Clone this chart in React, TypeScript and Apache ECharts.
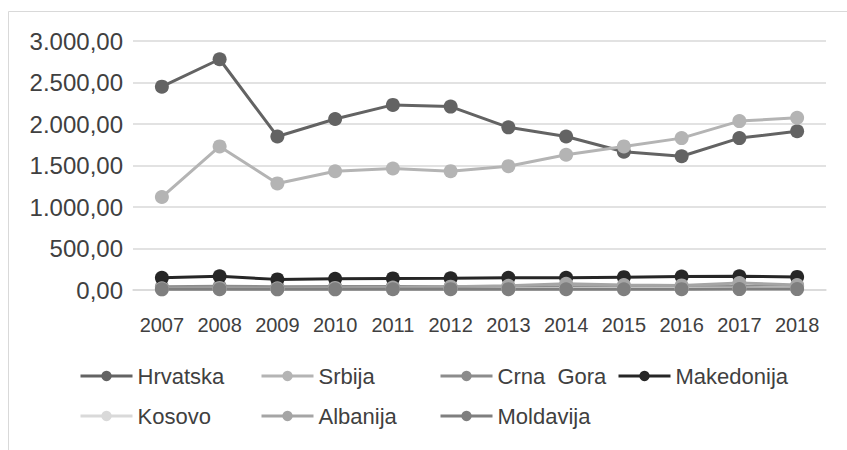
import React, { useEffect, useRef } from "react";
import * as echarts from "echarts";

const years = ["2007", "2008", "2009", "2010", "2011", "2012", "2013", "2014", "2015", "2016", "2017", "2018"];
const hrvatska = [2450, 2780, 1850, 2060, 2230, 2210, 1960, 1850, 1665, 1612, 1830, 1912];
const srbija = [1120, 1730, 1284, 1430, 1464, 1432, 1492, 1630, 1730, 1830, 2035, 2075];
const crnaGora = [40, 45, 40, 42, 42, 40, 35, 40, 40, 38, 42, 45];
const makedonija = [148, 165, 128, 136, 140, 142, 148, 148, 155, 162, 166, 158];
const kosovo = [10, 12, 12, 15, 15, 15, 15, 18, 20, 20, 22, 25];
const albanija = [20, 25, 20, 25, 30, 40, 50, 75, 60, 55, 85, 60];
const moldavija = [8, 9, 8, 8, 9, 10, 10, 9, 9, 10, 11, 11];

const seriesNames = ["Hrvatska", "Srbija", "Crna  Gora", "Makedonija", "Kosovo", "Albanija", "Moldavija"];
const seriesData = [hrvatska, srbija, crnaGora, makedonija, kosovo, albanija, moldavija];
const seriesColors = ["#636363", "#b4b4b4", "#8c8c8c", "#262626", "#d9d9d9", "#a5a5a5", "#7f7f7f"];

const legendPos = [
  [74, 360], [255, 360], [434, 360], [612, 360],
  [74, 400], [255, 400], [434, 400],
];

function fmt(v: number): string {
  const fixed = v.toFixed(2);
  const [intPart, dec] = fixed.split(".");
  const withSep = intPart.replace(/\B(?=(\d{3})+(?!\d))/g, ".");
  return withSep + "," + dec;
}

export default function App() {
  const ref = useRef<HTMLDivElement>(null);
  useEffect(() => {
    if (!ref.current) return;
    const chart = echarts.init(ref.current, undefined, { renderer: "svg" });
    const font = "'Liberation Sans', Arial, sans-serif";
    chart.setOption({
      animation: false,
      backgroundColor: "#ffffff",
      textStyle: { fontFamily: font },
      graphic: [
        {
          type: "rect",
          shape: { x: 8.5, y: 11.5, width: 900, height: 500 },
          style: { fill: "none", stroke: "#d9d9d9", lineWidth: 1 },
          silent: true,
        },
      ],
      grid: { left: 133, right: 21, top: 41, bottom: 160, containLabel: false },
      legend: seriesNames.map((n, i) => ({
        data: [n],
        left: legendPos[i][0],
        top: legendPos[i][1],
        itemWidth: 52,
        itemHeight: 13,
        itemGap: 0,
        lineStyle: { width: 3 },
        textStyle: { fontSize: 22, color: "#404040", fontFamily: font },
      })),
      xAxis: {
        type: "category",
        data: years,
        boundaryGap: true,
        axisLine: { show: true, lineStyle: { color: "#d9d9d9", width: 1.5 } },
        axisTick: { show: false },
        axisLabel: { fontSize: 20, color: "#404040", margin: 25, interval: 0, fontFamily: font },
      },
      yAxis: {
        type: "value",
        min: 0,
        max: 3000,
        interval: 500,
        axisLine: { show: false },
        axisTick: { show: false },
        splitLine: { lineStyle: { color: "#d9d9d9", width: 1.5 } },
        axisLabel: { fontSize: 24, color: "#404040", margin: 10, fontFamily: font, formatter: (v: number) => fmt(v) },
      },
      series: seriesNames.map((n, i) => ({
        name: n,
        type: "line",
        data: seriesData[i],
        color: seriesColors[i],
        symbol: "circle",
        symbolSize: 14,
        lineStyle: { width: 3, color: seriesColors[i] },
        itemStyle: { color: seriesColors[i] },
      })),
    });
    return () => chart.dispose();
  }, []);
  return <div ref={ref} style={{ position: "absolute", left: 0, top: 0, width: 847, height: 450 }} />;
}
